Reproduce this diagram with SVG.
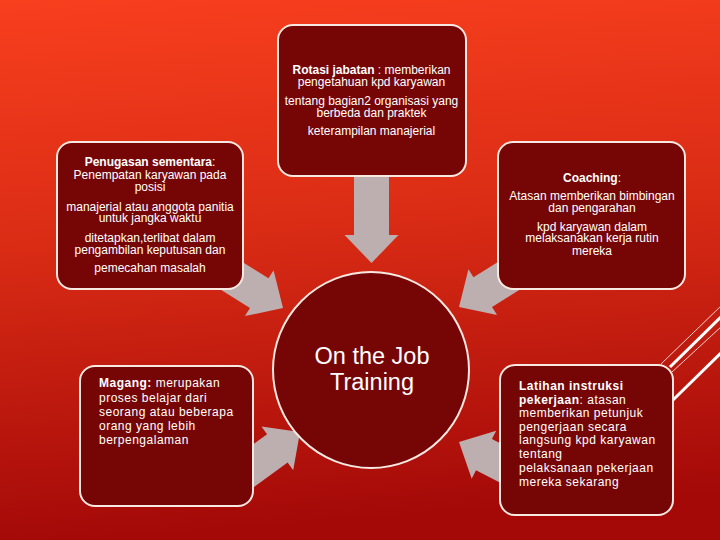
<svg xmlns="http://www.w3.org/2000/svg" xmlns:xlink="http://www.w3.org/1999/xlink" width="720" height="540" viewBox="0 0 720 540">
<defs>
<linearGradient id="bg" x1="0" y1="0" x2="0.1" y2="1">
<stop offset="0" stop-color="#f83f1e"/>
<stop offset="0.45" stop-color="#da2c15"/>
<stop offset="1" stop-color="#a40908"/>
</linearGradient>
<path id="arr" d="M0,0 L-28,-27 L-28,-17.5 L-92,-17.5 L-92,17.5 L-28,17.5 L-28,27 Z"/>
<style>
.box{fill:#760606;stroke:#f7e9e2;stroke-width:2}
.t{font-family:"Liberation Sans",Arial,sans-serif;font-size:12px;fill:#ffffff}
.c{text-anchor:middle}
.sp{letter-spacing:0.5px}
.b{font-weight:bold}
.arrow{fill:#bdafaf}
.deco{stroke:#ffffff;fill:none}
</style>
</defs>
<rect x="0" y="0" width="720" height="540" fill="url(#bg)"/>
<g id="decoration">
<line class="deco" x1="661" y1="364" x2="722" y2="305" stroke-width="0.8"/>
<line class="deco" x1="670" y1="367" x2="722" y2="316" stroke-width="3"/>
<line class="deco" x1="672" y1="372" x2="722" y2="326" stroke-width="0.8"/>
<line class="deco" x1="673" y1="400" x2="722" y2="352" stroke-width="3"/>
</g>
<g id="connectors">
<use xlink:href="#arr" class="arrow" transform="translate(371.5,263) rotate(90)"/>
<use xlink:href="#arr" class="arrow" transform="translate(283,308) rotate(32)"/>
<use xlink:href="#arr" class="arrow" transform="translate(459,307) rotate(148)"/>
<use xlink:href="#arr" class="arrow" transform="translate(300,432) rotate(-36)"/>
<use xlink:href="#arr" class="arrow" transform="translate(459,442) rotate(207)"/>
</g>
<g id="rotasi">
<rect class="box" x="278" y="25" width="188" height="151" rx="15"/>
<text class="t c" x="371.5" y="74"><tspan class="b">Rotasi jabatan</tspan> : memberikan</text>
<text class="t c" x="371.5" y="86">pengetahuan kpd karyawan</text>
<text class="t c" x="371.5" y="105">tentang bagian2 organisasi yang</text>
<text class="t c" x="371.5" y="117">berbeda dan praktek</text>
<text class="t c" x="371.5" y="135">keterampilan manajerial</text>
</g>
<g id="penugasan">
<rect class="box" x="57" y="142" width="186" height="147" rx="15"/>
<text class="t c" x="150" y="166"><tspan class="b">Penugasan sementara</tspan>:</text>
<text class="t c" x="150" y="179">Penempatan karyawan pada</text>
<text class="t c" x="150" y="191">posisi</text>
<text class="t c" x="150" y="211">manajerial atau anggota panitia</text>
<text class="t c" x="150" y="222">untuk jangka waktu</text>
<text class="t c" x="150" y="242">ditetapkan,terlibat dalam</text>
<text class="t c" x="150" y="254">pengambilan keputusan dan</text>
<text class="t c" x="150" y="272">pemecahan masalah</text>
</g>
<g id="coaching">
<rect class="box" x="498" y="142" width="187" height="147" rx="15"/>
<text class="t c" x="592" y="182"><tspan class="b">Coaching</tspan>:</text>
<text class="t c" x="592" y="200">Atasan memberikan bimbingan</text>
<text class="t c" x="592" y="212">dan pengarahan</text>
<text class="t c" x="592" y="231">kpd karyawan dalam</text>
<text class="t c" x="592" y="242">melaksanakan kerja rutin</text>
<text class="t c" x="592" y="255">mereka</text>
</g>
<g id="magang">
<rect class="box" x="80" y="366" width="173" height="140" rx="15"/>
<text class="t sp" x="99" y="387"><tspan class="b">Magang:</tspan> merupakan</text>
<text class="t sp" x="99" y="402">proses belajar dari</text>
<text class="t sp" x="99" y="416">seorang atau beberapa</text>
<text class="t sp" x="99" y="430">orang yang lebih</text>
<text class="t sp" x="99" y="444">berpengalaman</text>
</g>
<g id="latihan">
<rect class="box" x="500" y="365" width="173" height="150" rx="15"/>
<text class="t sp" x="519" y="390"><tspan class="b">Latihan instruksi</tspan></text>
<text class="t sp" x="519" y="403.5"><tspan class="b">pekerjaan</tspan>: atasan</text>
<text class="t sp" x="519" y="417">memberikan petunjuk</text>
<text class="t sp" x="519" y="430.5">pengerjaan secara</text>
<text class="t sp" x="519" y="444">langsung kpd karyawan</text>
<text class="t sp" x="519" y="458">tentang</text>
<text class="t sp" x="519" y="472">pelaksanaan pekerjaan</text>
<text class="t sp" x="519" y="486">mereka sekarang</text>
</g>
<g id="center">
<circle class="box" cx="371" cy="370" r="98"/>
<text class="t c" x="372" y="364" style="font-size:23.5px">On the Job</text>
<text class="t c" x="372" y="390" style="font-size:23.5px">Training</text>
</g>
</svg>
